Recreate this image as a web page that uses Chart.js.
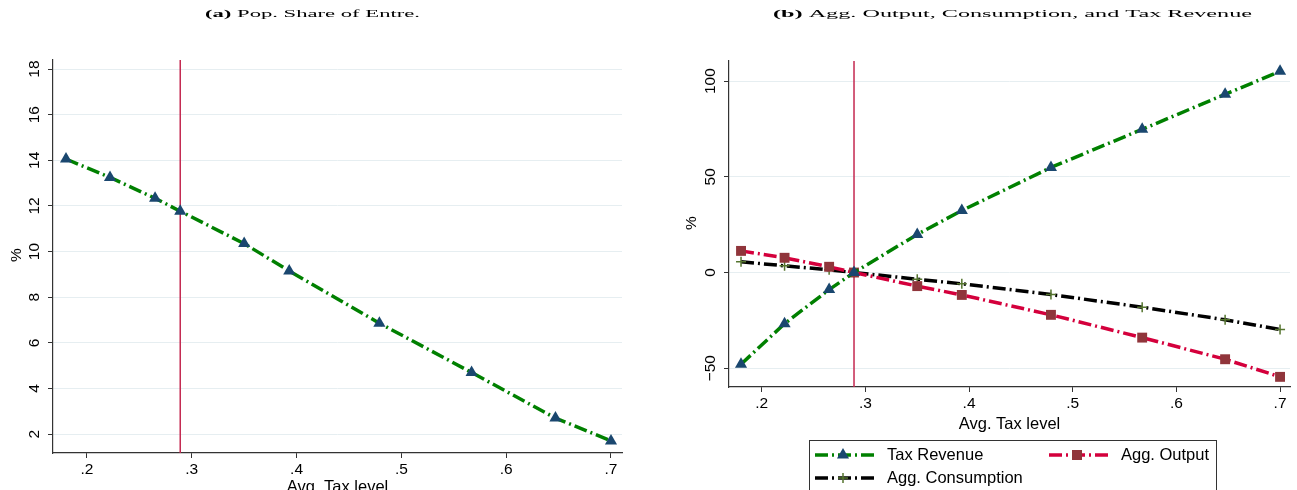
<!DOCTYPE html>
<html>
<head>
<meta charset="utf-8">
<script src="https://cdn.jsdelivr.net/npm/chart.js@4.4.1/dist/chart.umd.min.js"></script>
<style>
  body { margin: 0; background: #fff; width: 1297px; height: 490px; overflow: hidden; position: relative; }
  .panel { position: absolute; top: 0; height: 490px; }
  #left { left: 0; width: 645px; }
  #right { left: 648px; width: 649px; }
</style>
</head>
<body>
<div class="panel" id="left"><canvas id="chartA"></canvas></div>
<div class="panel" id="right"><canvas id="chartB"></canvas></div>
<script>
// data
const taxLevel = [0.18, 0.222, 0.265, 0.289, 0.35, 0.393, 0.479, 0.567, 0.647, 0.70];
const entreShare = [14.06, 13.25, 12.34, 11.77, 10.35, 9.15, 6.86, 4.7, 2.7, 1.7];
const taxRevenue = [-47.9, -26.7, -8.9, 0, 19.9, 32.4, 54.9, 74.8, 93.1, 105.1];
const aggOutput = [11.3, 7.7, 3.0, 0, -7.1, -11.7, -22.1, -34.0, -45.3, -54.5];
const aggConsumption = [5.6, 3.5, 1.4, 0, -3.5, -5.9, -11.5, -18.1, -24.7, -29.8];
const baseTax = 0.289;
const xTicks = [0.2, 0.3, 0.4, 0.5, 0.6, 0.7];
const yTicksA = [2, 4, 6, 8, 10, 12, 14, 16, 18];
const yTicksB = [-50, 0, 50, 100];

const SANS = "'Liberation Sans', Arial, sans-serif";
const SERIF = "'Liberation Serif', 'Times New Roman', serif";
const DASH = [13, 4, 2, 4];
const GREEN = "#008000";
const RED = "#d4003c";
const NAVY = "#1a476f";
const MAROON = "#90353b";
const OLIVE = "#55752f";
const VLINE = "#c42850";

function pts(ys) {
    return taxLevel.map((x, i) => ({ x: x, y: ys[i] }));
}

// stretched serif title, bold "(a)" part
function drawTitle(ctx, parts, left, width, y) {
    ctx.save();
    ctx.textAlign = "left";
    ctx.textBaseline = "alphabetic";
    let natural = 0;
    parts.forEach((p) => {
        ctx.font = (p.bold ? "bold " : "") + "11px " + SERIF;
        natural += ctx.measureText(p.text).width;
    });
    ctx.translate(left, y);
    ctx.scale(width / natural, 1);
    ctx.fillStyle = "#000";
    let x = 0;
    parts.forEach((p) => {
        ctx.font = (p.bold ? "bold " : "") + "11px " + SERIF;
        ctx.fillText(p.text, x, 0);
        x += ctx.measureText(p.text).width;
    });
    ctx.restore();
}

function rotText(ctx, text, x, y) {
    ctx.save();
    ctx.translate(x, y);
    ctx.rotate(-Math.PI / 2);
    ctx.textAlign = "center";
    ctx.textBaseline = "alphabetic";
    ctx.fillText(text, 0, 0);
    ctx.restore();
}

function fmtY(v) {
    return v < 0 ? "\u2212" + Math.abs(v) : String(v);
}

// vertical reference line + rotated y labels + titles
function makeDecor(cfg) {
    return {
        id: "decor" + cfg.key,
        beforeDatasetsDraw(chart) {
            const ctx = chart.ctx;
            const area = chart.chartArea;
            const px = chart.scales.x.getPixelForValue(baseTax);
            ctx.save();
            ctx.strokeStyle = VLINE;
            ctx.lineWidth = 1.5;
            ctx.beginPath();
            ctx.moveTo(px, area.top);
            ctx.lineTo(px, area.bottom);
            ctx.stroke();
            ctx.restore();
        },
        afterDraw(chart) {
            const ctx = chart.ctx;
            const area = chart.chartArea;
            const ys = chart.scales.y;
            ctx.save();
            ctx.fillStyle = "#000";
            ctx.font = "15.5px " + SANS;
            cfg.yTicks.forEach((v) => {
                rotText(ctx, fmtY(v), area.left - cfg.labelGap, ys.getPixelForValue(v));
            });
            rotText(ctx, "%", cfg.pctX, cfg.pctY);
            ctx.font = "16.5px " + SANS;
            ctx.textAlign = "center";
            ctx.textBaseline = "middle";
            ctx.fillText("Avg. Tax level", (area.left + area.right) / 2, cfg.xTitleY);
            drawTitle(ctx, cfg.title, cfg.titleLeft, cfg.titleWidth, 17);
            if (cfg.legend) cfg.legend(ctx);
            ctx.restore();
        }
    };
}

function marker(ctx, style, x, y) {
    ctx.save();
    if (style === "triangle") {
        const r = 7;
        ctx.fillStyle = NAVY;
        ctx.beginPath();
        ctx.moveTo(x, y - r);
        ctx.lineTo(x + r * 0.866, y + r * 0.5);
        ctx.lineTo(x - r * 0.866, y + r * 0.5);
        ctx.closePath();
        ctx.fill();
    } else if (style === "rect") {
        ctx.fillStyle = MAROON;
        ctx.fillRect(x - 5, y - 5, 10, 10);
    } else {
        ctx.strokeStyle = OLIVE;
        ctx.lineWidth = 1.5;
        ctx.beginPath();
        ctx.moveTo(x - 5, y); ctx.lineTo(x + 5, y);
        ctx.moveTo(x, y - 5); ctx.lineTo(x, y + 5);
        ctx.stroke();
    }
    ctx.restore();
}

function legendItem(ctx, x, y, color, style, label) {
    ctx.save();
    ctx.strokeStyle = color;
    ctx.lineWidth = 3.5;
    ctx.setLineDash(DASH);
    ctx.beginPath();
    ctx.moveTo(x, y);
    ctx.lineTo(x + 62, y);
    ctx.stroke();
    ctx.restore();
    marker(ctx, style, x + 28, y);
    ctx.fillStyle = "#000";
    ctx.font = "16.5px " + SANS;
    ctx.textAlign = "left";
    ctx.textBaseline = "middle";
    ctx.fillText(label, x + 72, y);
}

function lineSet(label, ys, color, style, fill, border, radius, bw) {
    return {
        label: label,
        data: pts(ys),
        borderColor: color,
        borderWidth: 3.5,
        borderDash: DASH,
        pointStyle: style,
        pointRadius: radius,
        pointBackgroundColor: fill,
        pointBorderColor: border,
        pointBorderWidth: bw,
        tension: 0
    };
}

function scales(xMin, xMax, yMin, yMax, yTicks, yWidth, xHeight) {
    return {
        x: {
            type: "linear",
            min: xMin,
            max: xMax,
            afterBuildTicks: (s) => { s.ticks = xTicks.map((v) => ({ value: v })); },
            afterFit: (s) => { s.height = xHeight; },
            grid: { drawOnChartArea: false, tickLength: 5, tickColor: "#333" },
            border: { color: "#333", width: 1.2 },
            ticks: {
                color: "#000",
                padding: 2,
                font: { family: SANS, size: 15.5 },
                callback: (v) => v.toFixed(1).replace(/^0/, "")
            }
        },
        y: {
            type: "linear",
            min: yMin,
            max: yMax,
            afterBuildTicks: (s) => { s.ticks = yTicks.map((v) => ({ value: v })); },
            afterFit: (s) => { s.width = yWidth; },
            grid: { color: "#e6eef1", lineWidth: 1, tickLength: 5, tickColor: "#333" },
            border: { color: "#333", width: 1.2 },
            ticks: { display: false }
        }
    };
}

new Chart(document.getElementById("chartA"), {
    type: "line",
    data: {
        datasets: [
            lineSet("Pop. Share of Entre.", entreShare, GREEN, "triangle", NAVY, NAVY, 7, 0)
        ]
    },
    options: {
        animation: false,
        responsive: true,
        maintainAspectRatio: false,
        layout: { padding: { top: 60, right: 23, bottom: 0, left: 0 } },
        plugins: { legend: { display: false }, tooltip: { enabled: false } },
        scales: scales(0.1676, 0.7105, 1.17, 18.4, yTicksA, 53, 37)
    },
    plugins: [makeDecor({
        key: "A",
        yTicks: yTicksA,
        labelGap: 14,
        pctX: 21,
        pctY: 255,
        xTitleY: 487,
        title: [{ text: "(a)", bold: true }, { text: " Pop. Share of Entre." }],
        titleLeft: 205,
        titleWidth: 215
    })]
});

new Chart(document.getElementById("chartB"), {
    type: "line",
    data: {
        datasets: [
            lineSet("Tax Revenue", taxRevenue, GREEN, "triangle", NAVY, NAVY, 7, 0),
            lineSet("Agg. Output", aggOutput, RED, "rect", MAROON, MAROON, 7, 0),
            lineSet("Agg. Consumption", aggConsumption, "#000", "cross", OLIVE, OLIVE, 5, 1.5)
        ]
    },
    options: {
        animation: false,
        responsive: true,
        maintainAspectRatio: false,
        layout: { padding: { top: 61, right: 2, bottom: 73, left: 0 } },
        plugins: { legend: { display: false }, tooltip: { enabled: false } },
        scales: scales(0.1684, 0.7096, -59.8, 110.5, yTicksB, 81, 30)
    },
    plugins: [makeDecor({
        key: "B",
        yTicks: yTicksB,
        labelGap: 14,
        pctX: 48,
        pctY: 223,
        xTitleY: 424,
        title: [{ text: "(b)", bold: true }, { text: " Agg. Output, Consumption, and Tax Revenue" }],
        titleLeft: 125,
        titleWidth: 479,
        legend: (ctx) => {
            ctx.save();
            ctx.strokeStyle = "#333";
            ctx.lineWidth = 1;
            ctx.strokeRect(161.5, 440.5, 407, 60);
            ctx.restore();
            legendItem(ctx, 167, 455, GREEN, "triangle", "Tax Revenue");
            legendItem(ctx, 401, 455, RED, "rect", "Agg. Output");
            legendItem(ctx, 167, 478, "#000", "cross", "Agg. Consumption");
        }
    })]
});
</script>
</body>
</html>
